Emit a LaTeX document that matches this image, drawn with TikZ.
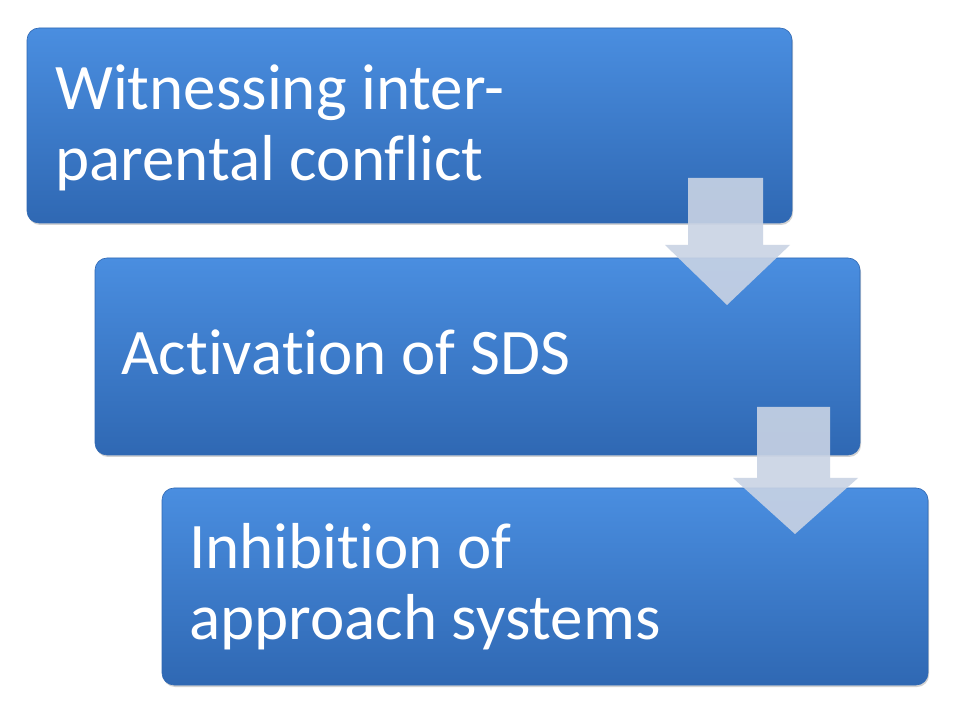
\documentclass[tikz,border=0pt]{standalone}
\usepackage{fontspec}
\setmainfont[Ligatures=NoCommon]{Carlito}
\usetikzlibrary{shadows}
\begin{document}
\begin{tikzpicture}[x=1pt,y=1pt,
  boxst/.style={rounded corners=12pt,top color=blue1,bottom color=blue2,draw=blue2,line width=0.6pt,
    drop shadow={shadow xshift=1pt,shadow yshift=-2pt,opacity=0.35}},
  txt/.style={anchor=base west,align=left,text=white,font=\fontsize{65}{71}\selectfont,inner sep=0pt},
  arrowst/.style={fill=arrowc,fill opacity=0.9,draw=none}]
\definecolor{blue1}{HTML}{4A8EE0}
\definecolor{blue2}{HTML}{2F68B3}
\definecolor{arrowc}{HTML}{C9D3E4}
\useasboundingbox (0,0) rectangle (960,720);
\fill[white] (0,0) rectangle (960,720);
\path[boxst] (27,497) rectangle (792,692);
\node[txt] (t1) at (55,539) {Witnessing inter-\\parental conflict};
\path[boxst] (95,265) rectangle (860,462);
\node[txt] (t2) at (121,345) {Activation of SDS};
\path[boxst] (162,35) rectangle (928,232);
\node[txt] (t3) at (189,81) {Inhibition of\\approach systems};
\path[arrowst] (688,542) -- (763,542) -- (763,475) -- (790,475) -- (727,415) -- (665,475) -- (688,475) -- cycle;
\path[arrowst] (757,313) -- (830,313) -- (830,242) -- (858,242) -- (795,186) -- (733,242) -- (757,242) -- cycle;
\end{tikzpicture}
\end{document}
